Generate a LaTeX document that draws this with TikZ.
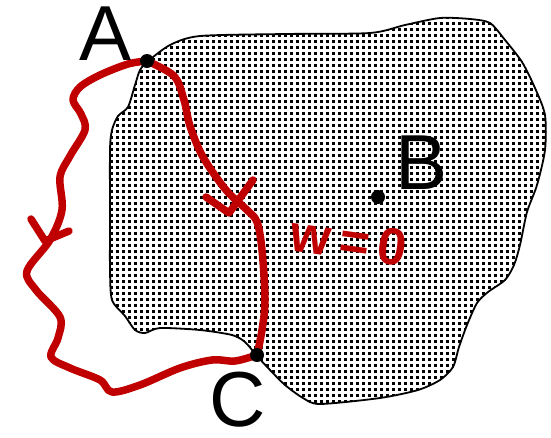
\documentclass[tikz,border=0pt]{standalone}
\usepackage{fontspec}
\setmainfont{Liberation Sans}
\usetikzlibrary{patterns}
\pgfdeclarepatternformonly{sqdots}{\pgfpointorigin}{\pgfqpoint{5.8pt}{5.8pt}}{\pgfqpoint{5.8pt}{5.8pt}}{\pgfpathrectangle{\pgfpointorigin}{\pgfqpoint{3pt}{3pt}}\pgfusepath{fill}}
\definecolor{pen}{RGB}{192,0,0}
\begin{document}
\begin{tikzpicture}[x=1pt,y=-1pt,
  blob/.style={draw=black,line width=1.8pt,pattern=sqdots,pattern color=black},
  ink/.style={draw=pen,line width=7.5pt,line cap=round,line join=round},
  pt/.style={circle,fill=black,inner sep=0pt,minimum size=14pt},
  lbl/.style={font=\fontsize{78}{80}\selectfont,inner sep=0pt}]
\useasboundingbox (0,0) rectangle (551,437);
\path[blob] plot[smooth cycle,tension=0.45] coordinates {
 (147,62) (170,45) (200,36) (285,34) (370,33) (405,25) (440,18) (470,19) (490,23)
 (505,40) (522,62) (535,88) (545,115) (545,150) (537,185) (527,212) (520,245)
 (514,265) (505,280) (488,292) (477,303) (467,325) (459,347) (453,367) (440,380)
 (418,390) (380,398) (320,404) (303,398) (285,385) (270,370) (257,356) (245,342)
 (232,335) (200,330) (160,328) (145,333) (135,330) (125,316) (112,300) (110,270)
 (110,220) (110,150) (112,130) (118,116) (128,107) (135,85) (140,70)};
\coordinate (A) at (147,61);
\coordinate (C) at (257,355);
% outer loop
\draw[ink] plot[smooth,tension=0.55] coordinates {
 (A) (128,64) (100,75) (80,87) (73,100) (81,114) (85,130) (70,156) (60,177)
 (62,210) (50,240) (27,271) (36,290) (60,317) (58,338) (51,357) (70,368)
 (100,380) (112,392) (140,385) (180,368) (212,360) (235,361) (C)};
\draw[ink] (31,219) -- (45,241) -- (69,231);
% inner path
\draw[ink] plot[smooth,tension=0.55] coordinates {
 (A) (174,76) (184,100) (190,126) (203,157) (226,190) (247,210) (257,222)
 (262,250) (265,300) (262,330) (C)};
\draw[ink] (206,197) -- (229,213) -- (253,180);
% points
\node[pt] (Adot) at (A) {};
\node[pt] (Bdot) at (378,197) {};
\node[pt] (Cdot) at (C) {};
% labels
\node[lbl] (la) at (106,34) {A};
\node[lbl] (lb) at (422,163) {B};
\node[lbl] (lc) at (238,400) {C};
\node[text=pen,font=\fontsize{52}{54}\selectfont\bfseries,rotate=-8,inner sep=0pt] (w) at (349,241) {w\,=\,0};
\end{tikzpicture}
\end{document}
